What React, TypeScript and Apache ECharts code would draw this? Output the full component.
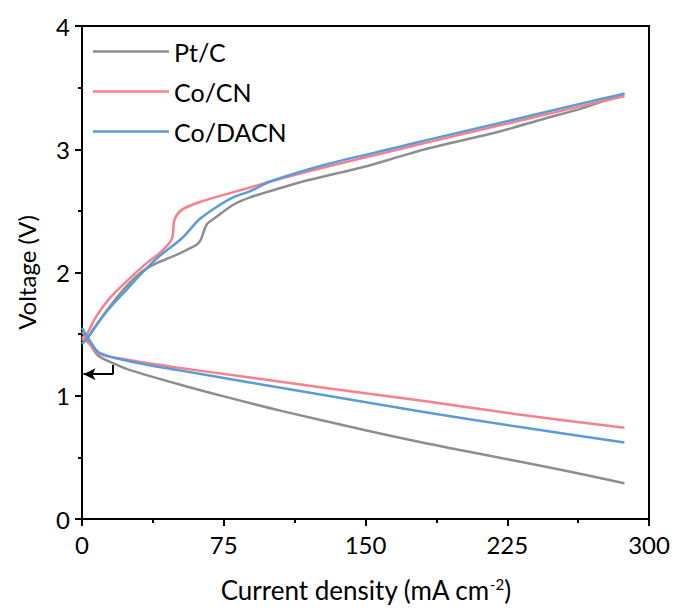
import React, { useEffect, useRef } from "react";
import * as echarts from "echarts";

// Tick labels
const xTicks = [0, 75, 150, 225, 300];
const yTicks = [0, 1, 2, 3, 4];

const seriesNames = ["Pt/C", "Co/CN", "Co/DACN"];
const seriesColors = ["#8e8e8e", "#f8808a", "#5b9bd8"];

// Charge branches [current density, voltage]
const ptcCharge: number[][] = [
  [0, 1.42], [3, 1.47], [7, 1.56], [14, 1.71], [23, 1.88], [32, 2.01], [40, 2.08],
  [46.5, 2.12], [55, 2.18], [61, 2.23], [63, 2.27], [66, 2.39], [71, 2.45], [80, 2.55],
  [89, 2.61], [106, 2.69], [120, 2.75], [150, 2.86], [168, 2.94], [184, 3.01],
  [220, 3.14], [245, 3.25], [264, 3.33], [287, 3.45],
];
const cocnCharge: number[][] = [
  [0, 1.45], [3, 1.51], [7, 1.63], [14, 1.78], [23, 1.92], [33, 2.06], [42, 2.17],
  [47.5, 2.27], [49, 2.43], [53, 2.51], [62, 2.57], [75, 2.63], [89, 2.69], [100, 2.74],
  [130, 2.86], [168, 3.0], [184, 3.06], [220, 3.19], [264, 3.35], [287, 3.43],
];
const codacnCharge: number[][] = [
  [0, 1.42], [3, 1.47], [7, 1.56], [14, 1.7], [23, 1.85], [32, 2.0], [40, 2.12],
  [53, 2.28], [62, 2.43], [71, 2.53], [80, 2.61], [89, 2.66], [100, 2.74], [130, 2.88],
  [168, 3.02], [184, 3.08], [220, 3.21], [264, 3.37], [287, 3.45],
];

// Discharge branches [current density, voltage]
const ptcDischarge: number[][] = [
  [0, 1.52], [5, 1.4], [9, 1.32], [17, 1.26], [25, 1.21], [53, 1.085], [75, 0.995],
  [106, 0.875], [150, 0.72], [180, 0.62], [200, 0.56], [230, 0.47], [250, 0.41], [287, 0.29],
];
const cocnDischarge: number[][] = [
  [0, 1.48], [4, 1.42], [9, 1.34], [25, 1.29], [50, 1.23], [88, 1.15], [130, 1.06],
  [180, 0.96], [230, 0.85], [287, 0.74],
];
const codacnDischarge: number[][] = [
  [0, 1.55], [4, 1.45], [9, 1.35], [25, 1.28], [50, 1.21], [88, 1.11], [130, 1.0],
  [180, 0.87], [230, 0.75], [287, 0.62],
];

// Annotation arrow (data coords)
const arrowVertical = [[16.4, 1.25], [16.4, 1.175]];
const arrowHorizontal = [[16.4, 1.175], [0.8, 1.175]];

const FONT = "Lato";

export default function App() {
  const ref = useRef<HTMLDivElement>(null);

  useEffect(() => {
    if (!ref.current) return;
    const chart = echarts.init(ref.current, null, { renderer: "svg" });

    const charges = [ptcCharge, cocnCharge, codacnCharge];
    const discharges = [ptcDischarge, cocnDischarge, codacnDischarge];

    const series: any[] = [];
    seriesNames.forEach((name, i) => {
      [discharges[i], charges[i]].forEach((data) => {
        series.push({
          name,
          type: "line",
          data,
          smooth: 0.3,
          symbol: "none",
          lineStyle: { color: seriesColors[i], width: 2.5 },
          itemStyle: { color: seriesColors[i] },
          z: 2 + i,
        });
      });
    });

    series.push({
      name: "arrow",
      type: "line",
      data: [],
      markLine: {
        silent: true,
        animation: false,
        label: { show: false },
        lineStyle: { color: "#000", width: 2, type: "solid" },
        data: [
          [
            { coord: arrowVertical[0], symbol: "none" },
            { coord: arrowVertical[1], symbol: "none" },
          ],
          [
            { coord: arrowHorizontal[0], symbol: "none" },
            { coord: arrowHorizontal[1], symbol: "arrow", symbolSize: [9, 12] },
          ],
        ],
      },
    });

    chart.setOption({
      animation: false,
      backgroundColor: "#ffffff",
      textStyle: { fontFamily: FONT },
      grid: {
        left: 82,
        right: 26,
        top: 26,
        bottom: 92,
        show: true,
        borderColor: "#000",
        borderWidth: 2,
        backgroundColor: "transparent",
      },
      legend: {
        data: seriesNames,
        orient: "vertical",
        left: 88,
        top: 34,
        itemWidth: 76,
        itemHeight: 14,
        itemGap: 15,
        icon: "path://M0,6 L76,6 L76,8.5 L0,8.5 Z",
        textStyle: { fontSize: 25, color: "#000", fontFamily: FONT, padding: [0, 0, 0, 0] },
      },
      xAxis: {
        type: "value",
        min: xTicks[0],
        max: xTicks[xTicks.length - 1],
        interval: 75,
        name: "{a|Current density (mA cm}{s|-2}{a|)}",
        nameLocation: "middle",
        nameGap: 57,
        nameTextStyle: {
          rich: {
            a: { fontSize: 26, color: "#000", fontFamily: FONT },
            s: { fontSize: 15, color: "#000", fontFamily: FONT, verticalAlign: "top", padding: [0, 0, 12, 0] },
          },
        },
        axisLine: { show: true, onZero: false, lineStyle: { color: "#000", width: 2 } },
        axisTick: { show: true, inside: false, length: 7, lineStyle: { color: "#000", width: 2 } },
        minorTick: { show: true, splitNumber: 2, length: 4, lineStyle: { color: "#000", width: 2 } },
        splitLine: { show: false },
        axisLabel: { fontSize: 24, color: "#000", margin: 13, fontFamily: FONT },
      },
      yAxis: {
        type: "value",
        min: yTicks[0],
        max: yTicks[yTicks.length - 1],
        interval: 1,
        name: "Voltage (V)",
        nameLocation: "middle",
        nameGap: 44,
        nameTextStyle: { fontSize: 24, color: "#000", fontFamily: FONT },
        axisLine: { show: true, onZero: false, lineStyle: { color: "#000", width: 2 } },
        axisTick: { show: true, inside: false, length: 7, lineStyle: { color: "#000", width: 2 } },
        minorTick: { show: true, splitNumber: 2, length: 4, lineStyle: { color: "#000", width: 2 } },
        splitLine: { show: false },
        axisLabel: { fontSize: 24, color: "#000", margin: 12, fontFamily: FONT },
      },
      series,
    });

    return () => chart.dispose();
  }, []);

  return (
    <div
      ref={ref}
      style={{ position: "fixed", left: 0, top: 0, width: 675, height: 611, background: "#fff" }}
    />
  );
}
